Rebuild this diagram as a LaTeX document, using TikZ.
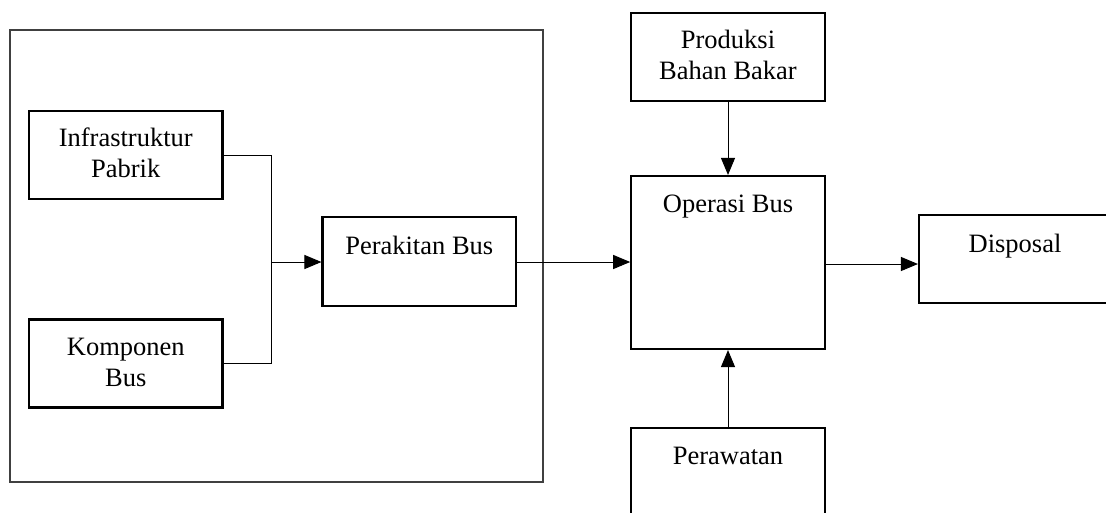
\documentclass[tikz,border=0pt]{standalone}
\usepackage{fontspec}
\setmainfont{Liberation Serif}
\usetikzlibrary{arrows.meta}

\tikzset{
  block/.style={draw=black, line width=2.1pt, minimum width=193.5pt, minimum height=88pt, inner sep=0pt},
  caption/.style={font=\fontsize{26.5}{31}\selectfont, align=center, inner sep=0pt},
  link/.style={draw=black, line width=1pt},
  flow/.style={link, -{Triangle[length=17pt, width=14pt]}},
  groupframe/.style={draw=black!75, line width=1.2pt, inner sep=0pt}
}

\begin{document}
\begin{tikzpicture}[x=1pt, y=-1pt]
  \useasboundingbox (0,0) rectangle (1106,512);
  \clip (0,0) rectangle (1106,512);
  \fill[white] (0,0) rectangle (1106,512);

  % manufacturing group
  \node[groupframe, minimum width=533pt, minimum height=452pt] (group) at (276.5,256) {};

  % blocks
  \node[block] (infra) at (125.75,155) {};
  \node[caption] (infraT) at (125.75,152.5) {Infrastruktur\\Pabrik};

  \node[block] (komp) at (125.75,363.5) {};
  \node[caption] (kompT) at (125.75,362) {Komponen\\Bus};

  \node[block, minimum height=89pt] (rakit) at (419.25,261.5) {};
  \node[caption, anchor=base] (rakitT) at (419.25,254) {Perakitan Bus};

  \node[block, minimum width=193.5pt] (bbm) at (728,56.7) {};
  \node[caption] (bbmT) at (728,54.5) {Produksi\\Bahan Bakar};

  \node[block, minimum height=173pt] (ops) at (728,262.5) {};
  \node[caption, anchor=base] (opsT) at (728,212) {Operasi Bus};

  \node[block, minimum width=192pt] (disp) at (1015,259) {};
  \node[caption, anchor=base] (dispT) at (1015,252) {Disposal};

  \node[block] (rawat) at (728,472) {};
  \node[caption, anchor=base] (rawatT) at (728,464) {Perawatan};

  % connectors
  \coordinate (join) at (271.5,262);
  \draw[link] (infra.east) -| (join);
  \draw[link] (komp.east) -| (join);
  \draw[flow] (join) -- (rakit.west |- join);
  \draw[flow] (rakit.east |- join) -- (ops.west |- join);
  \draw[flow] (bbm.south) -- (ops.north);
  \draw[flow] (rawat.north) -- (ops.south);
  \draw[flow] (ops.east |- 0,264) -- (disp.west |- 0,264);
\end{tikzpicture}
\end{document}
